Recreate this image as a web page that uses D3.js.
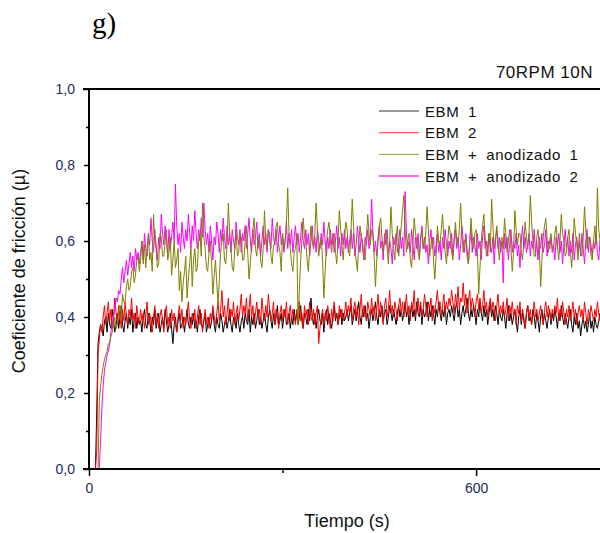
<!DOCTYPE html>
<html>
<head>
<meta charset="utf-8">
<script src="https://cdn.jsdelivr.net/npm/d3@7"></script>
<style>
  body { margin: 0; background: #fff; }
  svg { display: block; font-family: "Liberation Sans", Arial, sans-serif; }
</style>
</head>
<body>
<svg id="chart" width="600" height="533"></svg>
<script>
// sampling interval of the recordings (s)
const step = 2;

// coefficient of friction, one value every 2 s starting at t = 0 (40 values = 80 s per row)
const ebm1 = [
  0,0,0,0,0,0,.15,.33,.36,.38,.37,.35,.39,.40,.36,.41,.38,.37,.42,.39,.36,.38,.41,.37,.40,.43,.38,.36,.39,.41,.37,.40,.38,.42,.36,.39,.41,.37,.40,.38,
  .39,.36,.40,.42,.38,.37,.41,.39,.36,.40,.38,.42,.37,.39,.41,.36,.38,.40,.37,.42,.39,.36,.38,.41,.37,.33,.38,.40,.36,.39,.41,.37,.38,.40,.36,.39,.42,.38,.37,.40,
  .38,.41,.37,.39,.36,.40,.42,.38,.37,.39,.41,.36,.38,.40,.37,.39,.42,.38,.36,.40,.38,.37,.41,.39,.36,.38,.40,.37,.39,.42,.38,.36,.40,.39,.37,.41,.38,.36,.39,.40,
  .37,.41,.39,.38,.42,.36,.40,.38,.41,.37,.39,.42,.38,.40,.37,.39,.41,.38,.36,.40,.42,.39,.37,.41,.38,.40,.43,.38,.39,.41,.37,.40,.42,.38,.39,.41,.37,.40,.38,.42,
  .39,.41,.38,.40,.43,.39,.37,.41,.40,.38,.42,.39,.45,.40,.38,.41,.37,.40,.42,.39,.38,.41,.36,.40,.42,.38,.41,.39,.37,.40,.43,.39,.41,.38,.40,.42,.38,.41,.39,.40,
  .42,.39,.41,.43,.38,.40,.42,.39,.41,.44,.40,.38,.42,.40,.43,.39,.41,.37,.40,.42,.39,.41,.44,.40,.38,.42,.40,.43,.39,.41,.42,.38,.40,.43,.41,.39,.42,.40,.38,.41,
  .43,.40,.42,.39,.41,.44,.40,.42,.38,.41,.43,.40,.42,.39,.44,.41,.40,.43,.38,.42,.40,.41,.44,.39,.42,.40,.43,.41,.38,.42,.40,.44,.41,.39,.42,.40,.43,.38,.41,.42,
  .40,.43,.41,.39,.42,.44,.40,.42,.38,.41,.43,.40,.42,.45,.41,.39,.42,.40,.43,.41,.38,.42,.40,.44,.41,.39,.43,.40,.42,.38,.41,.44,.40,.42,.39,.43,.41,.38,.42,.40,
  .39,.42,.40,.37,.41,.43,.39,.41,.38,.40,.42,.39,.36,.40,.42,.38,.41,.39,.37,.41,.43,.39,.40,.38,.42,.40,.37,.41,.39,.36,.40,.42,.38,.41,.39,.37,.40,.42,.38,.41,
  .39,.42,.40,.37,.41,.39,.43,.40,.38,.41,.39,.37,.40,.42,.38,.36,.40,.38,.41,.37,.39,.35,.38,.40,.37,.39,.36,.38,.41,.37,.39,.36,.40,.38,.37,.39,.41,.37,.38,.40
];

const ebm2 = [
  0,0,0,0,0,0,.05,.30,.34,.38,.36,.40,.43,.38,.41,.44,.39,.42,.37,.40,.45,.41,.38,.43,.40,.37,.42,.39,.44,.40,.38,.42,.40,.45,.39,.41,.37,.43,.40,.38,
  .42,.39,.41,.37,.40,.44,.38,.41,.39,.36,.40,.43,.38,.41,.37,.40,.42,.39,.36,.41,.43,.38,.40,.37,.42,.39,.41,.38,.36,.40,.43,.39,.42,.37,.40,.38,.41,.44,.39,.37,
  .41,.39,.42,.37,.40,.43,.38,.41,.36,.39,.42,.38,.40,.37,.41,.39,.43,.40,.38,.41,.44,.39,.42,.47,.40,.43,.38,.41,.45,.39,.42,.40,.44,.38,.41,.43,.39,.42,.46,.40,
  .43,.41,.45,.39,.42,.46,.40,.43,.38,.41,.44,.40,.42,.38,.45,.41,.39,.43,.40,.46,.42,.39,.41,.44,.38,.42,.40,.37,.41,.43,.39,.42,.40,.44,.38,.41,.43,.39,.42,.40,
  .38,.42,.40,.44,.39,.41,.37,.43,.40,.42,.38,.44,.40,.39,.42,.38,.41,.43,.33,.37,.40,.42,.38,.41,.39,.43,.40,.37,.42,.39,.44,.40,.41,.38,.43,.40,.42,.39,.41,.44,
  .40,.43,.41,.45,.39,.42,.44,.40,.43,.38,.42,.46,.40,.43,.41,.39,.44,.42,.40,.45,.41,.43,.39,.42,.46,.40,.44,.41,.38,.43,.45,.40,.42,.47,.41,.43,.40,.44,.42,.39,
  .43,.45,.41,.44,.40,.42,.46,.41,.43,.39,.44,.42,.47,.40,.43,.45,.41,.44,.40,.42,.46,.43,.40,.44,.42,.45,.39,.43,.41,.44,.47,.42,.44,.40,.43,.46,.41,.44,.42,.45,
  .43,.47,.44,.41,.46,.43,.48,.42,.45,.44,.49,.43,.46,.41,.44,.47,.42,.45,.43,.40,.44,.46,.42,.45,.41,.43,.47,.42,.44,.40,.43,.45,.41,.44,.42,.39,.43,.46,.41,.43,
  .41,.44,.40,.42,.45,.39,.43,.41,.44,.40,.42,.38,.43,.41,.44,.39,.42,.40,.37,.41,.43,.40,.42,.38,.41,.44,.40,.42,.39,.41,.43,.40,.38,.42,.44,.40,.43,.41,.39,.42,
  .40,.43,.41,.45,.39,.42,.40,.44,.41,.38,.42,.40,.43,.39,.41,.44,.40,.42,.38,.41,.43,.40,.42,.39,.44,.41,.38,.42,.40,.43,.41,.39,.42,.40,.44,.41,.39,.42,.40,.43
];

const anod1 = [
  0,0,0,0,0,0,0,0,.18,.22,.25,.27,.29,.30,.31,.33,.33,.35,.36,.38,.40,.37,.38,.42,.43,.40,.46,.44,.44,.48,.50,.47,.48,.52,.53,.49,.51,.55,.56,.52,
  .55,.60,.54,.59,.53,.58,.62,.55,.57,.52,.67,.60,.58,.53,.54,.62,.61,.56,.56,.60,.63,.55,.57,.61,.51,.55,.60,.53,.55,.58,.47,.52,.44,.49,.52,.56,.45,.50,.54,.58,
  .48,.55,.58,.52,.53,.60,.62,.56,.70,.61,.58,.53,.52,.57,.60,.54,.46,.51,.55,.49,.43,.50,.57,.60,.62,.55,.54,.59,.70,.62,.58,.53,.52,.58,.63,.56,.57,.62,.61,.55,
  .55,.60,.64,.57,.50,.54,.59,.63,.66,.58,.56,.61,.61,.55,.53,.58,.68,.60,.58,.63,.62,.56,.54,.59,.59,.64,.65,.59,.57,.52,.62,.58,.60,.65,.74,.62,.58,.54,.52,.57,
  .58,.62,.38,.47,.55,.60,.66,.61,.60,.55,.52,.58,.64,.60,.58,.62,.70,.63,.56,.59,.61,.55,.45,.52,.59,.63,.65,.60,.57,.61,.62,.57,.54,.60,.68,.63,.59,.55,.61,.65,
  .63,.58,.56,.62,.71,.64,.58,.55,.52,.59,.64,.61,.60,.56,.55,.61,.67,.62,.59,.63,.62,.56,.48,.55,.60,.64,.66,.61,.57,.60,.63,.58,.54,.60,.69,.62,.58,.55,.61,.64,
  .56,.60,.64,.68,.72,.63,.57,.60,.62,.55,.53,.59,.66,.62,.60,.57,.55,.61,.63,.58,.58,.62,.69,.63,.56,.59,.61,.55,.50,.56,.64,.60,.59,.63,.67,.61,.57,.54,.60,.64,
  .62,.57,.55,.61,.65,.60,.59,.63,.70,.62,.57,.60,.61,.56,.54,.59,.66,.61,.58,.62,.63,.57,.46,.53,.60,.64,.67,.61,.56,.59,.62,.57,.71,.64,.58,.61,.64,.59,.55,.60,
  .61,.58,.66,.62,.57,.60,.63,.58,.52,.57,.68,.63,.59,.62,.62,.57,.55,.60,.65,.61,.58,.62,.72,.65,.60,.56,.56,.61,.63,.58,.48,.55,.61,.64,.66,.61,.57,.60,.62,.58,
  .58,.62,.64,.59,.55,.60,.67,.62,.60,.56,.57,.61,.63,.58,.53,.58,.66,.62,.59,.55,.62,.57,.56,.61,.69,.63,.58,.61,.61,.56,.55,.60,.64,.59,.74,.63,.60,.56,.62,.57
];

const anod2 = [
  0,0,0,0,0,0,0,0,0,.08,.16,.22,.26,.28,.30,.31,.33,.36,.38,.40,.42,.45,.44,.47,.46,.50,.53,.49,.52,.55,.51,.54,.57,.53,.56,.52,.58,.55,.57,.54,
  .57,.60,.55,.62,.58,.56,.61,.59,.66,.60,.57,.63,.59,.55,.61,.58,.67,.62,.59,.64,.60,.56,.63,.58,.61,.65,.60,.75,.64,.59,.62,.57,.65,.61,.58,.63,.60,.67,.62,.58,
  .64,.60,.68,.62,.58,.63,.60,.66,.61,.70,.63,.59,.62,.57,.64,.60,.55,.61,.59,.65,.62,.57,.63,.60,.66,.61,.58,.64,.59,.62,.57,.63,.60,.58,.65,.61,.59,.63,.57,.62,
  .60,.64,.58,.62,.66,.60,.57,.63,.59,.61,.65,.58,.62,.56,.60,.64,.59,.62,.57,.63,.60,.58,.66,.61,.59,.63,.57,.61,.64,.59,.62,.57,.60,.65,.58,.62,.59,.63,.57,.61,
  .64,.59,.62,.57,.61,.65,.60,.58,.63,.59,.62,.56,.60,.64,.58,.61,.57,.63,.60,.58,.62,.59,.65,.60,.56,.61,.58,.63,.59,.62,.57,.60,.64,.58,.61,.56,.62,.59,.63,.58,
  .61,.57,.60,.63,.58,.62,.56,.59,.64,.60,.57,.62,.58,.55,.61,.59,.63,.58,.60,.71,.62,.57,.60,.56,.61,.64,.58,.60,.55,.62,.59,.63,.57,.60,.58,.54,.61,.59,.62,.57,
  .60,.63,.58,.61,.56,.73,.62,.58,.60,.57,.63,.59,.55,.61,.58,.62,.56,.60,.64,.58,.61,.57,.59,.54,.60,.63,.58,.61,.56,.59,.62,.57,.60,.55,.61,.58,.63,.59,.56,.60,
  .58,.62,.56,.60,.63,.58,.61,.55,.59,.64,.60,.57,.62,.58,.54,.60,.63,.57,.61,.59,.56,.62,.58,.60,.55,.61,.64,.58,.60,.56,.62,.59,.57,.61,.54,.60,.63,.58,.61,.57,
  .60,.49,.62,.58,.61,.55,.59,.63,.57,.60,.58,.62,.56,.59,.53,.60,.64,.58,.61,.57,.59,.62,.56,.60,.58,.63,.57,.60,.55,.61,.58,.62,.57,.59,.63,.56,.60,.58,.61,.57,
  .59,.55,.61,.58,.62,.57,.60,.54,.59,.63,.58,.61,.56,.60,.57,.62,.55,.59,.61,.57,.60,.56,.62,.58,.54,.60,.63,.57,.61,.59,.56,.60,.58,.62,.57,.55,.60,.58,.61,.57
];

const seriesNames = ["EBM 1", "EBM 2", "EBM + anodizado 1", "EBM + anodizado 2"];
const seriesColors = ["#000000", "#ff0000", "#808000", "#ff00ff"];
const seriesValues = [ebm1, ebm2, anod1, anod2];
const drawOrder = [0, 1, 3, 2]; // olive ends up over magenta in the original

const xTicks = [0, 300, 600];
const yTicks = [0, 0.1, 0.2, 0.3, 0.4, 0.5, 0.6, 0.7, 0.8, 0.9, 1.0];

const margin = { left: 89, top: 89, bottom: 469 };
const svg = d3.select("#chart");

const x = d3.scaleLinear().domain([0, 792]).range([margin.left, 600]);
const y = d3.scaleLinear().domain([0, 1]).range([margin.bottom, margin.top]);

svg.append("defs").append("clipPath").attr("id", "plot-clip")
  .append("rect")
  .attr("x", margin.left).attr("y", margin.top - 2)
  .attr("width", 600 - margin.left).attr("height", margin.bottom - margin.top + 2);

// panel label
svg.append("text")
  .attr("x", 92).attr("y", 33)
  .style("font-family", "'Liberation Serif', 'Times New Roman', serif")
  .style("font-size", "29px")
  .text("g)");

svg.append("text")
  .attr("x", 593).attr("y", 78)
  .attr("text-anchor", "end")
  .style("font-size", "17px")
  .style("letter-spacing", "0.5px")
  .attr("fill", "#111")
  .text("70RPM 10N");

// lines
const line = d3.line()
  .x((d, i) => x(i * step))
  .y(d => y(d));

const plot = svg.append("g").attr("clip-path", "url(#plot-clip)");
drawOrder.forEach(k => {
  plot.append("path")
    .datum(seriesValues[k])
    .attr("fill", "none")
    .attr("stroke", seriesColors[k])
    .attr("stroke-width", 1)
    .attr("d", line);
});

// axes
const tickColor = "#1c2b58";
const yAxis = svg.append("g")
  .attr("transform", `translate(${margin.left},0)`)
  .call(d3.axisLeft(y).tickValues(yTicks)
    .tickSize(0)
    .tickFormat(d => Math.round(d * 10) % 2 === 0 ? d3.format(".1f")(d).replace(".", ",") : ""));
yAxis.select(".domain").remove();
yAxis.selectAll(".tick line")
  .attr("x2", d => Math.round(d * 10) % 2 === 0 ? -5 : -3)
  .attr("stroke", "#000").attr("stroke-width", 1.5);
yAxis.selectAll(".tick text")
  .attr("x", -14)
  .style("font-size", "14px")
  .style("font-family", "'Liberation Sans', Arial, sans-serif")
  .attr("fill", tickColor);

const xAxis = svg.append("g")
  .attr("transform", `translate(0,${margin.bottom})`)
  .call(d3.axisBottom(x).tickValues(xTicks)
    .tickSize(0)
    .tickFormat(d => d === 300 ? "" : d));
xAxis.select(".domain").remove();
xAxis.selectAll(".tick line")
  .attr("y2", d => d === 300 ? 4 : 7)
  .attr("stroke", "#000").attr("stroke-width", 1.5);
xAxis.selectAll(".tick text")
  .attr("y", 14)
  .style("font-size", "14px")
  .style("font-family", "'Liberation Sans', Arial, sans-serif")
  .attr("fill", tickColor);

// frame
svg.append("line")
  .attr("x1", margin.left).attr("x2", margin.left)
  .attr("y1", margin.top).attr("y2", margin.bottom)
  .attr("stroke", "#000").attr("stroke-width", 2);
svg.append("line")
  .attr("x1", margin.left - 6).attr("x2", 600)
  .attr("y1", margin.top).attr("y2", margin.top)
  .attr("stroke", "#000").attr("stroke-width", 2);
svg.append("line")
  .attr("x1", margin.left - 6).attr("x2", 600)
  .attr("y1", margin.bottom).attr("y2", margin.bottom)
  .attr("stroke", "#000").attr("stroke-width", 2);

// axis titles
svg.append("text")
  .attr("x", 347).attr("y", 527)
  .attr("text-anchor", "middle")
  .style("font-size", "18px")
  .attr("fill", "#111")
  .text("Tiempo (s)");

svg.append("text")
  .attr("transform", "translate(25,271) rotate(-90)")
  .attr("text-anchor", "middle")
  .style("font-size", "18px")
  .attr("fill", "#111")
  .text("Coeficiente de fricción (µ)");

// legend
const legend = svg.append("g");
seriesNames.forEach((name, i) => {
  const ly = 111 + i * 21.7;
  legend.append("line")
    .attr("x1", 379).attr("x2", 419)
    .attr("y1", ly).attr("y2", ly)
    .attr("stroke", seriesColors[i])
    .attr("stroke-opacity", i === 3 ? 0.6 : 0.8)
    .attr("stroke-width", i === 3 ? 2 : 1);
  legend.append("text")
    .attr("x", 425).attr("y", ly + 5.5)
    .style("font-size", "15px")
    .style("letter-spacing", "0.6px")
    .style("word-spacing", "4px")
    .attr("fill", "#111")
    .text(name);
});
</script>
</body>
</html>
